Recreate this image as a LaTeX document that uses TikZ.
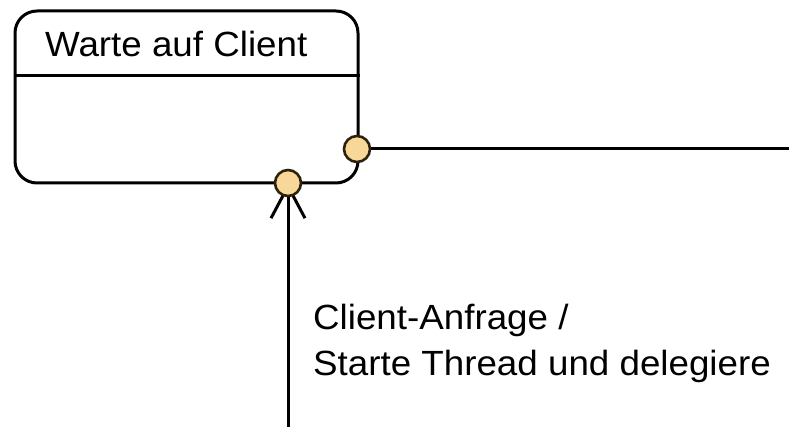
\documentclass[tikz,border=0pt]{standalone}
\usepackage{fontspec}
\setmainfont{Liberation Sans}[FakeStretch=1.05]
\usetikzlibrary{arrows.meta,calc}
\pgfdeclarelayer{background}
\pgfsetlayers{background,main}
\definecolor{portfill}{RGB}{247,216,152}
\definecolor{portdraw}{RGB}{45,32,12}
\tikzset{
  statebox/.style={draw=black, line width=3pt, rounded corners=22pt,
    minimum width=343pt, minimum height=172pt, inner sep=0pt},
  port/.style={circle, draw=portdraw, fill=portfill, line width=2.6pt,
    minimum size=26pt, inner sep=0pt},
  conn/.style={draw=black, line width=3pt},
  lbl/.style={inner sep=0pt, font=\fontsize{35}{46}\selectfont, text=black}
}
\begin{document}
\begin{tikzpicture}[x=1pt,y=-1pt]
  \useasboundingbox (0,0) rectangle (789,427);
  % state with its name compartment
  \node[statebox] (state) at (186.5,97) {};
  \draw[line width=3pt] ($(state.north west)+(0,66)$) -- ($(state.north east)+(0,66)$);
  \node[lbl, anchor=base west] (title) at (45,57) {Warte auf Client};
  % ports on the border
  \node[port] (exitport) at (357,149) {};
  \node[port] (entryport) at (288,183) {};
  % free ends of the transitions
  \coordinate (outend) at (789,149);
  \coordinate (inend) at (288,427);
  \begin{pgfonlayer}{background}
    \draw[conn] (exitport.center) -- (outend);
    \draw[conn, -{Straight Barb[length=32pt,width=34pt,line width=3pt]}] (inend) -- (entryport.center);
  \end{pgfonlayer}
  \node[lbl, anchor=north west, align=left] (trigger) at (313,304)
    {Client-Anfrage /\\Starte Thread und delegiere};
\end{tikzpicture}
\end{document}
